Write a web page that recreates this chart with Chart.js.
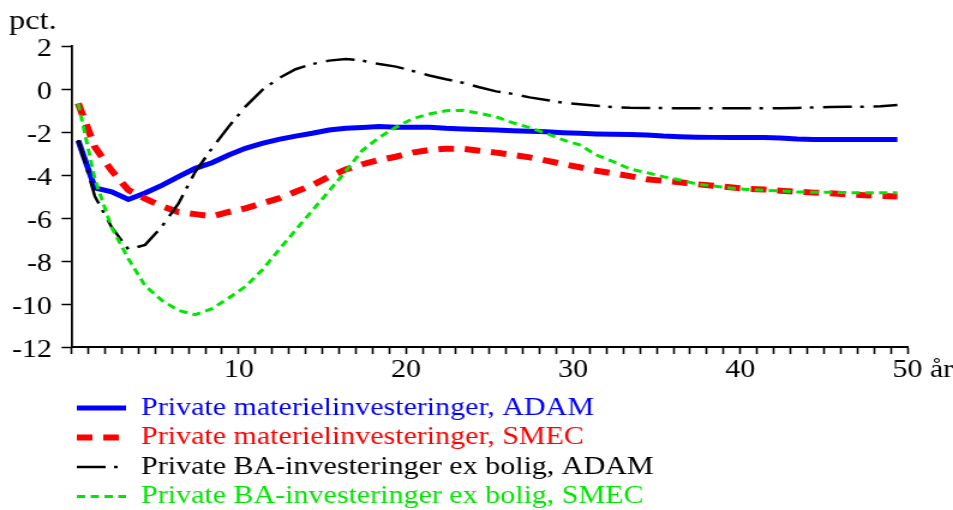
<!DOCTYPE html>
<html>
<head>
<meta charset="utf-8">
<script src="https://cdn.jsdelivr.net/npm/chart.js@4.4.1/dist/chart.umd.min.js"></script>
<style>
  html, body { margin: 0; padding: 0; background: #fff; overflow: hidden; }
  #wrap { position: absolute; left: 0; top: 0; width: 794px; height: 510px;
          transform: scaleX(1.2003); transform-origin: 0 0; }
</style>
</head>
<body>
<div id="wrap"><canvas id="c"></canvas></div>
<script>
// ---------- data ----------
const years = [1,2,3,4,5,6,7,8,9,10,11,12,13,14,15,16,17,18,19,20,21,22,23,24,25,
               26,27,28,29,30,31,32,33,34,35,36,37,38,39,40,41,42,43,44,45,46,47,48,49,50];

const materielADAM = [-2.40,-4.60,-4.78,-5.14,-4.84,-4.48,-4.08,-3.69,-3.43,-3.07,
                      -2.76,-2.53,-2.34,-2.19,-2.06,-1.91,-1.83,-1.79,-1.75,-1.78,
                      -1.78,-1.78,-1.83,-1.86,-1.88,-1.91,-1.94,-1.96,-1.99,-2.03,
                      -2.06,-2.09,-2.11,-2.12,-2.14,-2.19,-2.22,-2.24,-2.25,-2.25,
                      -2.25,-2.26,-2.28,-2.33,-2.35,-2.35,-2.35,-2.35,-2.35,-2.35];

const materielSMEC = [-0.67,-2.70,-3.80,-4.70,-5.10,-5.45,-5.72,-5.82,-5.92,-5.72,
                      -5.55,-5.32,-5.09,-4.78,-4.47,-4.08,-3.74,-3.50,-3.30,-3.15,
                      -2.96,-2.84,-2.78,-2.78,-2.87,-2.96,-3.07,-3.18,-3.33,-3.49,
                      -3.64,-3.80,-3.92,-4.05,-4.20,-4.27,-4.34,-4.43,-4.50,-4.57,
                      -4.64,-4.67,-4.73,-4.78,-4.82,-4.85,-4.90,-4.94,-4.98,-5.00];

const baADAM = [-2.37,-5.00,-6.43,-7.46,-7.25,-6.40,-5.32,-3.85,-2.76,-1.75,
                -0.82,-0.05, 0.50, 0.92, 1.16, 1.32, 1.40, 1.32, 1.16, 1.04,
                 0.84, 0.63, 0.45, 0.29, 0.08,-0.11,-0.23,-0.39,-0.51,-0.64,
                -0.71,-0.78,-0.84,-0.87,-0.88,-0.89,-0.90,-0.90,-0.90,-0.90,
                -0.90,-0.90,-0.89,-0.88,-0.86,-0.84,-0.83,-0.82,-0.80,-0.74];

const baSMEC = [-0.67,-4.20,-6.45,-7.90,-9.15,-9.83,-10.30,-10.50,-10.22,-9.72,
                -9.19,-8.42,-7.49,-6.56,-5.65,-4.75,-3.82,-2.85,-2.25,-1.78,
                -1.38,-1.16,-1.01,-0.99,-1.13,-1.29,-1.57,-1.80,-2.06,-2.37,
                -2.60,-3.07,-3.38,-3.72,-3.89,-4.08,-4.23,-4.42,-4.51,-4.60,
                -4.67,-4.71,-4.74,-4.79,-4.80,-4.80,-4.82,-4.82,-4.82,-4.82];

const seriesNames = [
  'Private materielinvesteringer, ADAM',
  'Private materielinvesteringer, SMEC',
  'Private BA-investeringer ex bolig, ADAM',
  'Private BA-investeringer ex bolig, SMEC'
];

const yTicks = [2, 0, -2, -4, -6, -8, -10, -12];
const xTickLabels = [10, 20, 30, 40, 50];
const yUnit = 'pct.';
const xUnit = 'år';

// ---------- styling / options ----------
const FONT = '"Liberation Serif", "Times New Roman", serif';
const xShift = 0.6;          // periods are plotted 0.6 year to the right of the axis ticks
const maxYear = 50;

function pts(vals) { return years.map((t, i) => ({ x: t, y: vals[i] })); }

const datasets = [
  { label: seriesNames[0], data: pts(materielADAM), borderColor: '#0000ff', borderWidth: 5,
    borderDash: [], order: 3 },
  { label: seriesNames[1], data: pts(materielSMEC), borderColor: '#ff0000', borderWidth: 6,
    borderDash: [13, 9], order: 2 },
  { label: seriesNames[2], data: pts(baADAM), borderColor: '#000000', borderWidth: 2.5,
    borderDash: [24, 7, 3, 8], order: 1 },
  { label: seriesNames[3], data: pts(baSMEC), borderColor: '#00e600', borderWidth: 3,
    borderDash: [7, 4.5], order: 0 }
].map(d => Object.assign(d, { pointRadius: 0, tension: 0, fill: false, borderCapStyle: 'butt' }));

const legendShift = {
  id: 'legendShift',
  afterLayout(chart) {
    const lg = chart.legend;
    if (!lg) return;
    lg.left = 59.5;
    lg.top = 391;
  }
};

const extraText = {
  id: 'extraText',
  afterDraw(chart) {
    const ctx = chart.ctx;
    ctx.save();
    ctx.fillStyle = '#000';
    ctx.textAlign = 'left';
    ctx.textBaseline = 'alphabetic';
    ctx.font = '27px ' + FONT;
    ctx.fillText(yUnit, 7.5, 29);
    ctx.font = '25px ' + FONT;
    const xs = chart.scales.x;
    const last = xTickLabels[xTickLabels.length - 1];
    const px = xs.getPixelForValue(last + xShift);
    ctx.textBaseline = 'middle';
    const y = xs.top + 7 + 1.5 + 15;
    ctx.fillText(xUnit, px + ctx.measureText(String(last)).width / 2 + ctx.measureText(' ').width, y);
    ctx.restore();
  }
};

new Chart(document.getElementById('c'), {
  type: 'line',
  data: { datasets },
  plugins: [legendShift, extraText],
  options: {
    responsive: true,
    maintainAspectRatio: false,
    animation: false,
    devicePixelRatio: 1,
    layout: { padding: { top: 46, right: 38, bottom: 0, left: 0 } },
    plugins: {
      tooltip: { enabled: false },
      title: { display: false },
      legend: {
        display: true,
        position: 'bottom',
        align: 'start',
        labels: {
          usePointStyle: true,
          pointStyleWidth: 41,
          boxHeight: 25,
          padding: 4.5,
          font: { family: FONT, size: 25 },
          generateLabels: (chart) => chart.data.datasets.map((ds, i) => ({
            text: ds.label,
            datasetIndex: i,
            fillStyle: ds.borderColor,
            strokeStyle: ds.borderColor,
            fontColor: ds.borderColor,
            lineWidth: ds.borderWidth,
            lineDash: ds.borderDash,
            lineCap: 'butt',
            pointStyle: 'line',
            hidden: false
          }))
        }
      }
    },
    scales: {
      x: {
        type: 'linear',
        min: xShift,
        max: maxYear + xShift,
        afterBuildTicks: (s) => {
          const t = [];
          for (let k = 0; k <= maxYear; k++) t.push({ value: k + xShift });
          s.ticks = t;
        },
        afterFit: (s) => { s.height = 35; },
        ticks: {
          autoSkip: false,
          maxRotation: 0,
          padding: 1.5,
          color: '#000',
          font: { family: FONT, size: 25 },
          callback: (v) => {
            const k = Math.round(v - xShift);
            return xTickLabels.includes(k) ? String(k) : '';
          }
        },
        grid: { drawOnChartArea: false, drawTicks: true, tickLength: 7, tickWidth: 1.6, tickColor: '#000' },
        border: { display: true, color: '#000', width: 2 }
      },
      y: {
        min: yTicks[yTicks.length - 1],
        max: yTicks[0],
        afterBuildTicks: (s) => { s.ticks = yTicks.map(v => ({ value: v })); },
        afterFit: (s) => { s.width = 59.6; },
        ticks: {
          padding: 8,
          color: '#000',
          font: { family: FONT, size: 25, lineHeight: '7px' },
          callback: (v) => ['', String(v)]
        },
        grid: { drawOnChartArea: false, drawTicks: true, tickLength: 8.3, tickWidth: 1.5, tickColor: '#000' },
        border: { display: true, color: '#000', width: 1.8 }
      }
    }
  }
});
</script>
</body>
</html>
